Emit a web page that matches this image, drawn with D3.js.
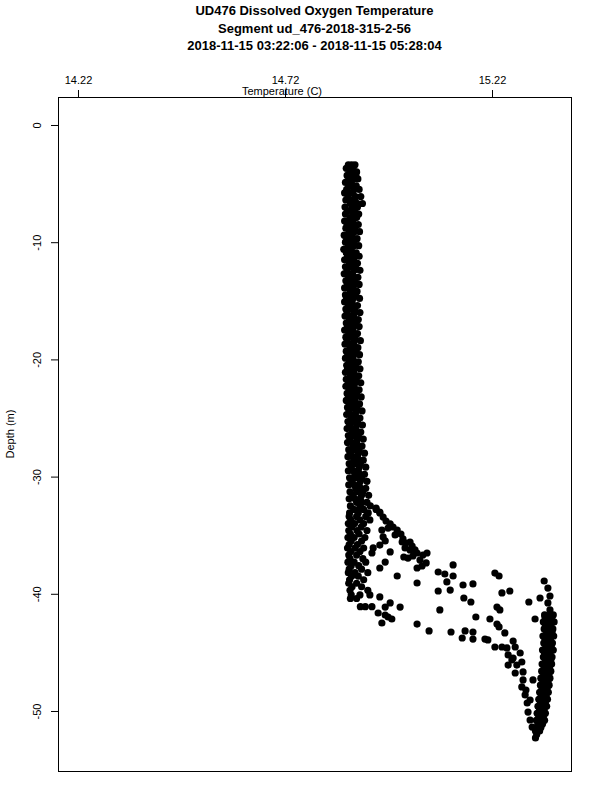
<!DOCTYPE html>
<html>
<head>
<meta charset="utf-8">
<script src="https://cdn.jsdelivr.net/npm/d3@7"></script>
<style>
  body { margin: 0; background: #fff; }
  svg text { font-family: "Liberation Sans", Arial, Helvetica, sans-serif; fill: #000; }
</style>
</head>
<body>
<div id="chart"></div>
<script>
// titles and axis labels
let titleLines = [
  "UD476 Dissolved Oxygen Temperature",
  "Segment ud_476-2018-315-2-56",
  "2018-11-15 03:22:06 - 2018-11-15 05:28:04"
];
let xLabel = "Temperature (C)";
let yLabel = "Depth (m)";
let xTicks = [14.22, 14.72, 15.22];
let yTicks = [0, -10, -20, -30, -40, -50];

// mixed layer column: [depth, temp, temp, ...]
let mixedLayer = [
  [-3.4, 14.873, 14.881, 14.889], [-3.7, 14.868, 14.877, 14.884], [-4.0, 14.878, 14.886, 14.893],
  [-4.3, 14.870, 14.882, 14.891], [-4.6, 14.875, 14.886, 14.896], [-4.9, 14.866, 14.874, 14.880],
  [-5.2, 14.875, 14.884, 14.892], [-5.5, 14.869, 14.886, 14.899], [-5.8, 14.864, 14.876, 14.884],
  [-6.1, 14.872, 14.890, 14.903], [-6.4, 14.867, 14.879, 14.889], [-6.7, 14.878, 14.895, 14.907],
  [-7.0, 14.865, 14.883, 14.895], [-7.3, 14.871, 14.880, 14.888], [-7.6, 14.866, 14.884, 14.898],
  [-7.9, 14.877, 14.886, 14.893], [-8.2, 14.864, 14.873, 14.884], [-8.5, 14.870, 14.882, 14.897],
  [-8.8, 14.867, 14.878, 14.889], [-9.1, 14.875, 14.888, 14.900], [-9.4, 14.863, 14.871, 14.882],
  [-9.7, 14.869, 14.881, 14.894], [-10.0, 14.866, 14.877, 14.887], [-10.3, 14.873, 14.886, 14.898],
  [-10.6, 14.862, 14.871, 14.880], [-10.9, 14.868, 14.880, 14.892], [-11.2, 14.871, 14.885, 14.899],
  [-11.5, 14.864, 14.875, 14.886], [-11.8, 14.876, 14.884, 14.895], [-12.1, 14.866, 14.879, 14.890],
  [-12.4, 14.870, 14.887, 14.901], [-12.7, 14.863, 14.872, 14.883], [-13.0, 14.874, 14.885, 14.896],
  [-13.3, 14.867, 14.877, 14.888], [-13.6, 14.871, 14.886, 14.899], [-13.9, 14.864, 14.874, 14.885],
  [-14.2, 14.878, 14.886, 14.894], [-14.5, 14.866, 14.878, 14.890], [-14.8, 14.869, 14.884, 14.900],
  [-15.1, 14.864, 14.872, 14.882], [-15.4, 14.873, 14.884, 14.895], [-15.7, 14.867, 14.878, 14.889],
  [-16.0, 14.870, 14.887, 14.901], [-16.3, 14.865, 14.875, 14.886], [-16.6, 14.876, 14.886, 14.897],
  [-16.9, 14.868, 14.880, 14.891], [-17.2, 14.871, 14.885, 14.899], [-17.5, 14.864, 14.874, 14.884],
  [-17.8, 14.874, 14.884, 14.895], [-18.1, 14.867, 14.878, 14.889], [-18.4, 14.870, 14.887, 14.902],
  [-18.7, 14.865, 14.875, 14.886], [-19.0, 14.877, 14.886, 14.896], [-19.3, 14.868, 14.880, 14.891],
  [-19.6, 14.872, 14.886, 14.900], [-19.9, 14.866, 14.875, 14.884], [-20.2, 14.875, 14.886, 14.897],
  [-20.5, 14.869, 14.879, 14.890], [-20.8, 14.871, 14.887, 14.901], [-21.1, 14.866, 14.876, 14.886],
  [-21.4, 14.878, 14.888, 14.898], [-21.7, 14.868, 14.880, 14.892], [-22.0, 14.873, 14.889, 14.903],
  [-22.3, 14.867, 14.877, 14.887], [-22.6, 14.876, 14.888, 14.899], [-22.9, 14.870, 14.882, 14.893],
  [-23.2, 14.874, 14.890, 14.904], [-23.5, 14.868, 14.879, 14.889], [-23.8, 14.879, 14.890, 14.900],
  [-24.1, 14.871, 14.883, 14.894], [-24.4, 14.875, 14.892, 14.906], [-24.7, 14.869, 14.880, 14.890],
  [-25.0, 14.880, 14.891, 14.901], [-25.3, 14.872, 14.884, 14.895], [-25.6, 14.876, 14.893, 14.907],
  [-25.9, 14.870, 14.881, 14.891], [-26.2, 14.882, 14.893, 14.903], [-26.5, 14.873, 14.886, 14.897],
  [-26.8, 14.877, 14.895, 14.909], [-27.1, 14.871, 14.882, 14.893], [-27.4, 14.884, 14.895, 14.906],
  [-27.7, 14.874, 14.887, 14.899], [-28.0, 14.878, 14.897, 14.912], [-28.3, 14.872, 14.884, 14.895],
  [-28.6, 14.886, 14.898, 14.909], [-28.9, 14.875, 14.889, 14.902], [-29.2, 14.880, 14.899, 14.915],
  [-29.5, 14.873, 14.885, 14.897], [-29.8, 14.889, 14.901, 14.912], [-30.1, 14.876, 14.891, 14.905],
  [-30.4, 14.882, 14.902, 14.918], [-30.7, 14.874, 14.887, 14.899], [-31.0, 14.891, 14.903, 14.915],
  [-31.3, 14.877, 14.893, 14.908], [-31.6, 14.884, 14.905, 14.922], [-31.9, 14.875, 14.889, 14.902],
  [-32.2, 14.893, 14.906, 14.918], [-32.5, 14.878, 14.902, 14.926], [-32.8, 14.886, 14.898, 14.910, 14.940],
  [-33.1, 14.876, 14.897, 14.921, 14.949],
  [-33.4, 14.875, 14.893, 14.915], [-33.7, 14.879, 14.901, 14.925], [-34.0, 14.873, 14.888, 14.910],
  [-34.3, 14.881, 14.904], [-34.6, 14.874, 14.894, 14.918], [-34.9, 14.878, 14.899],
  [-35.2, 14.872, 14.887, 14.913], [-35.5, 14.880, 14.905], [-35.8, 14.875, 14.895],
  [-36.1, 14.871, 14.889, 14.910], [-36.4, 14.879, 14.901], [-36.7, 14.874, 14.893],
  [-37.0, 14.877, 14.908], [-37.3, 14.872, 14.887, 14.915], [-37.6, 14.880, 14.898],
  [-37.9, 14.875, 14.905], [-38.2, 14.873, 14.889, 14.920], [-38.5, 14.881, 14.897],
  [-38.8, 14.876, 14.910], [-39.1, 14.874, 14.893], [-39.4, 14.882, 14.905],
  [-39.7, 14.877, 14.920], [-40.1, 14.880, 14.901], [-40.4, 14.878, 14.893],
  [-41.1, 14.902, 14.914, 14.930]
];

// thermocline scatter: [temp, depth]
let thermocline = [
  [14.957, -33.45], [14.964, -33.79], [14.974, -34.04], [14.981, -34.30], [14.991, -34.56],
  [15.000, -34.90], [15.005, -35.32], [15.012, -35.67], [15.022, -35.58], [15.027, -35.92],
  [15.034, -36.26], [15.029, -36.77], [15.017, -36.95], [15.007, -36.86], [15.039, -36.52],
  [15.053, -36.69], [15.063, -36.52], [15.046, -37.12], [15.061, -37.37], [15.039, -37.80],
  [15.051, -37.63], [14.954, -34.56], [14.957, -35.15], [14.962, -35.49], [14.949, -35.84],
  [14.974, -36.43], [14.933, -36.09], [14.930, -36.52], [14.962, -37.29], [14.949, -37.80],
  [14.991, -38.48], [15.039, -39.08], [15.090, -38.14], [15.106, -38.31], [15.126, -37.54],
  [15.126, -38.48], [15.111, -38.99], [15.090, -39.76], [15.119, -39.68], [15.150, -39.25],
  [15.174, -39.16], [15.152, -40.36], [15.169, -40.70], [15.227, -38.23], [15.237, -38.48],
  [15.244, -39.93], [15.263, -39.76], [15.309, -40.70], [15.336, -40.36], [15.094, -41.38],
  [14.998, -41.13], [14.974, -40.78], [14.962, -41.13], [14.945, -41.64], [14.962, -41.81],
  [14.969, -41.98], [14.978, -42.15], [14.954, -42.49], [15.039, -42.58], [15.068, -43.17],
  [15.121, -43.26], [15.155, -43.17], [15.174, -43.26], [15.148, -43.77], [15.174, -43.86],
  [15.181, -41.98], [15.215, -42.15], [15.232, -41.13], [15.239, -41.38], [15.232, -42.58],
  [15.237, -42.83], [15.324, -42.15], [15.203, -43.86], [15.210, -43.94], [15.251, -43.34],
  [15.271, -44.03], [15.276, -44.54], [15.227, -44.54], [15.244, -44.54], [15.256, -44.62],
  [14.925, -40.10], [14.949, -40.27], [14.940, -32.68], [14.949, -33.02],
  [15.003, -35.58], [15.010, -36.09], [15.022, -36.26], [14.986, -34.98], [14.969, -34.39]
];

// branch converging on the bottom: [temp, depth]
let bottomBranch = [
  [15.259, -45.22], [15.271, -45.48], [15.280, -46.08], [15.292, -45.82], [15.288, -45.05],
  [15.259, -46.08], [15.295, -46.67], [15.319, -47.35], [15.295, -47.35], [15.276, -46.76],
  [15.292, -47.95], [15.300, -48.63], [15.305, -49.32], [15.307, -50.09], [15.312, -50.77],
  [15.317, -51.37], [15.302, -48.21], [15.312, -49.06], [15.268, -45.65],
  [15.346, -38.91], [15.355, -39.51], [15.360, -40.19], [15.355, -40.78], [15.360, -41.38],
  [15.348, -41.98]
];

// bottom layer column: [depth, temp, temp, ...]
let bottomLayer = [
  [-41.8, 15.347, 15.360, 15.368], [-42.1, 15.351, 15.364], [-42.4, 15.344, 15.357, 15.370],
  [-42.7, 15.349, 15.362], [-43.0, 15.346, 15.358, 15.367], [-43.3, 15.352, 15.365],
  [-43.6, 15.343, 15.356, 15.369], [-43.9, 15.348, 15.361], [-44.2, 15.345, 15.357, 15.366],
  [-44.5, 15.350, 15.363], [-44.8, 15.342, 15.355, 15.368], [-45.1, 15.347, 15.360],
  [-45.4, 15.344, 15.356, 15.365], [-45.7, 15.349, 15.362], [-46.0, 15.341, 15.353, 15.364],
  [-46.3, 15.346, 15.359], [-46.6, 15.340, 15.352, 15.362], [-46.9, 15.345, 15.357],
  [-47.2, 15.338, 15.350, 15.360], [-47.5, 15.343, 15.355], [-47.8, 15.337, 15.348, 15.358],
  [-48.1, 15.341, 15.353], [-48.4, 15.335, 15.346, 15.356], [-48.7, 15.339, 15.351],
  [-49.0, 15.333, 15.344, 15.354], [-49.3, 15.337, 15.349], [-49.6, 15.331, 15.342, 15.352],
  [-49.9, 15.335, 15.346], [-50.2, 15.329, 15.340, 15.349], [-50.5, 15.333, 15.344],
  [-50.8, 15.327, 15.338, 15.347], [-51.1, 15.331, 15.342], [-51.4, 15.328, 15.338],
  [-51.7, 15.325, 15.335], [-52.0, 15.328], [-52.3, 15.325]
];

// flatten rows of [depth, temps...] into [temp, depth] points
function rowsToPoints(rows) {
  let pts = [];
  rows.forEach(function(r) {
    for (let i = 1; i < r.length; i++) pts.push([r[i], r[0]]);
  });
  return pts;
}

let points = rowsToPoints(mixedLayer)
  .concat(thermocline)
  .concat(bottomBranch)
  .concat(rowsToPoints(bottomLayer));

function drawChart() {
  let width = 600, height = 800;
  let margin = {top: 97, right: 29, bottom: 29, left: 58};

  let svg = d3.select("#chart")
    .append("svg")
    .attr("width", width)
    .attr("height", height);

  svg.append("rect")
    .attr("width", width)
    .attr("height", height)
    .attr("fill", "#fff");

  // scales
  let x = d3.scaleLinear()
    .domain([14.1717, 15.4108])
    .range([margin.left, width - margin.right]);

  let y = d3.scaleLinear()
    .domain([2.389, -55.12])
    .range([margin.top, height - margin.bottom]);

  // title
  svg.append("g")
    .selectAll("text")
    .data(titleLines)
    .enter()
    .append("text")
      .attr("x", (margin.left + width - margin.right) / 2)
      .attr("y", function(d, i) { return 15 + i * 17.5; })
      .attr("text-anchor", "middle")
      .attr("font-size", "13px")
      .attr("font-weight", "bold")
      .text(function(d) { return d; });

  // top axis
  let xAxis = svg.append("g")
    .attr("transform", "translate(0," + margin.top + ")")
    .call(d3.axisTop(x).tickValues(xTicks).tickSize(7).tickSizeOuter(0).tickPadding(6)
      .tickFormat(function(d) { return d.toFixed(2); }));
  xAxis.select(".domain").remove();
  xAxis.selectAll("text").attr("font-size", "11px").attr("font-family", null);
  xAxis.selectAll("line").attr("stroke", "#000");

  // left axis
  let yAxis = svg.append("g")
    .attr("transform", "translate(" + margin.left + ",0)")
    .call(d3.axisLeft(y).tickValues(yTicks).tickSize(7).tickSizeOuter(0)
      .tickFormat(function(d) { return String(d); }));
  yAxis.select(".domain").remove();
  yAxis.selectAll("line").attr("stroke", "#000");
  yAxis.selectAll("text")
    .attr("x", null)
    .attr("dy", null)
    .attr("font-size", "11px")
    .attr("font-family", null)
    .attr("text-anchor", "middle")
    .attr("transform", "translate(-17,0) rotate(-90)");

  // axis labels
  svg.append("text")
    .attr("x", 282)
    .attr("y", 95)
    .attr("text-anchor", "middle")
    .attr("font-size", "11px")
    .text(xLabel);

  svg.append("text")
    .attr("transform", "translate(14," + (margin.top + height - margin.bottom) / 2 + ") rotate(-90)")
    .attr("text-anchor", "middle")
    .attr("font-size", "11px")
    .text(yLabel);

  // plot box
  svg.append("rect")
    .attr("x", margin.left + 0.5)
    .attr("y", margin.top + 0.5)
    .attr("width", width - margin.left - margin.right)
    .attr("height", height - margin.top - margin.bottom)
    .attr("fill", "none")
    .attr("stroke", "#000")
    .attr("stroke-width", 1);

  // dots
  svg.append("g")
    .selectAll("circle")
    .data(points)
    .enter()
    .append("circle")
      .attr("cx", function(d) { return x(d[0]); })
      .attr("cy", function(d) { return y(d[1]); })
      .attr("r", 3.6)
      .style("fill", "#000");
}

drawChart();
</script>
</body>
</html>
